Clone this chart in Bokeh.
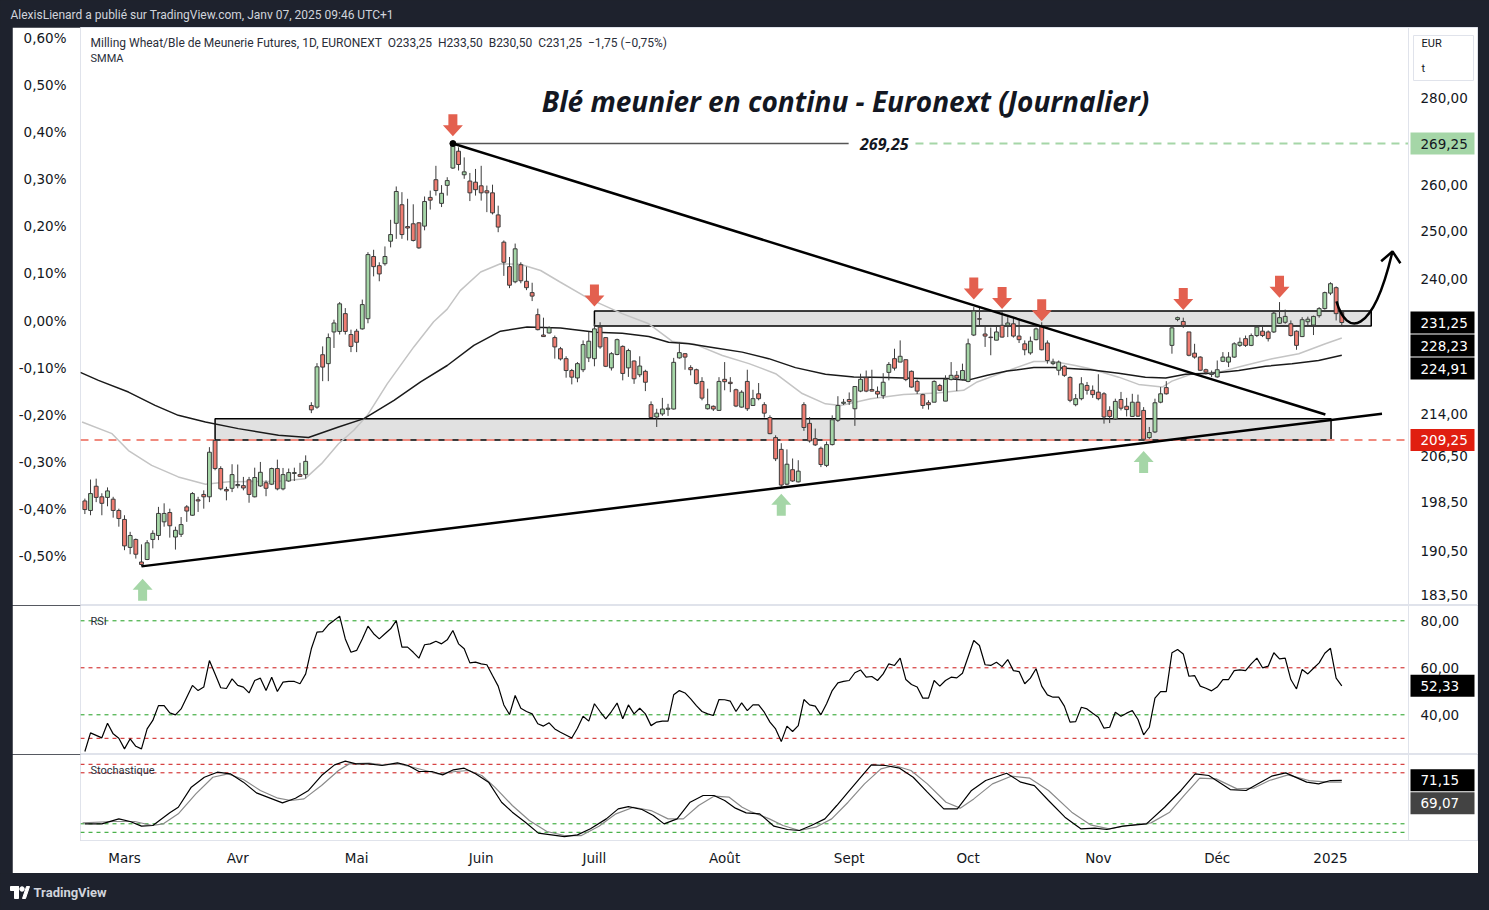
import numpy as np
import pandas as pd
from bokeh.plotting import figure
from bokeh.models import (Range1d, LinearAxis, LinearScale, FixedTicker, CustomJSTickFormatter,
                          Label, Span, ColumnDataSource, Spacer)
from bokeh.layouts import column, row
from bokeh.embed import file_html
from bokeh.resources import INLINE
from bokeh.core.properties import value

# ---------------- DATA ----------------
header_text = "AlexisLienard a publié sur TradingView.com, Janv 07, 2025 09:46 UTC+1"
legend_text = ("Milling Wheat/Ble de Meunerie Futures, 1D, EURONEXT\u00a0\u00a0O233,25\u00a0\u00a0H233,50"
               "\u00a0\u00a0B230,50\u00a0\u00a0C231,25\u00a0\u00a0\u22121,75 (\u22120,75%)")
title_text = "Blé meunier en continu - Euronext (Journalier)"
month_labels = ["Mars", "Avr", "Mai", "Juin", "Juill", "Août", "Sept", "Oct", "Nov", "Déc", "2025"]
holidays = ["2024-03-29", "2024-04-01", "2024-05-01", "2024-12-25", "2024-12-26", "2025-01-01"]

# daily candles 2024-02-21 .. 2025-01-06
opens = [198.7, 197.1, 201.2, 199.4, 199.3, 199.0, 197.1,
         195.6, 191.0, 192.3, 188.65, 189.05, 192.3, 192.95, 195.2, 196.75, 192.7,
         193.15, 197.7, 196.3, 198.9, 199.8, 199.4, 209.2, 204.25, 200.65, 200.85,
         201.3, 201.3, 202.3, 199.4, 201.25, 201.8, 201.55, 204.25, 200.75, 202.1,
         203.4, 203.2, 203.2, 215.5, 215.2, 225.0, 223.3, 229.4, 229.5, 233.0,
         228.9, 229.55, 230.0, 232.0, 244.6, 242.7, 243.1, 247.8, 251.6, 255.6,
         250.9, 251.5, 251.7, 251.0, 257.2, 261.1, 255.9, 259.85, 263.7, 267.5,
         262.2, 260.8, 260.55, 259.75, 258.65, 258.2, 253.4, 247.6, 242.5, 239.4,
         242.9, 239.5, 237.2, 232.8, 228.8, 229.2, 228.3, 226.15, 224.25, 222.0,
         220.6, 222.15, 224.4, 224.25, 230.35, 228.3, 222.5, 225.05, 226.6, 222.5,
         223.8, 221.2, 221.85, 215.65, 213.4, 213.95, 214.8, 214.85, 224.4, 225.2,
         222.55, 222.15, 219.95, 214.9, 215.35, 214.6, 220.35, 219.8, 218.4, 215.2,
         219.95, 215.5, 217.65, 215.65, 213.3, 209.7, 207.6, 201.55, 204.05, 201.95,
         215.65, 212.25, 209.5, 207.8, 204.8, 208.45, 212.8, 215.9, 216.6, 214.9,
         218.15, 220.65, 218.45, 218.1, 217.3, 221.65, 224.25, 223.6, 224.05, 221.85,
         219.95, 217.5, 216.0, 216.1, 219.2, 216.3, 220.3, 221.1, 220.3, 219.95,
         228.8, 232.0, 229.0, 228.4, 227.8, 230.7, 230.7, 231.0, 228.6, 227.1,
         225.35, 227.9, 230.45, 227.25, 223.3, 222.05, 222.8, 220.7, 215.65, 216.75,
         219.2, 218.3, 217.95, 217.65, 214.6, 213.05, 216.6, 215.35, 213.5, 216.1,
         214.6, 209.7, 210.7, 216.1, 218.8, 226.8, 231.85, 231.45, 229.4, 225.3,
         224.55, 222.15, 221.25, 220.8, 223.75, 223.6, 224.55, 226.8, 228.1, 226.8,
         228.7, 229.55, 229.4, 229.4, 231.1, 231.3, 231.0, 229.55, 228.5, 231.4,
         230.75, 232.6, 234.0, 237.1, 238.2, 233.25]
highs = [199.1, 202.35, 202.5, 200.0, 201.0, 199.4, 197.4,
         196.3, 193.55, 192.45, 191.5, 192.2, 193.8, 197.7, 198.3, 197.4, 194.4,
         196.0, 198.0, 200.2, 199.4, 200.5, 208.0, 209.25, 204.65, 201.1, 205.0,
         204.95, 202.8, 202.8, 204.4, 205.4, 202.2, 204.4, 205.8, 204.35, 204.25,
         204.4, 205.25, 206.55, 216.1, 223.4, 226.6, 229.1, 231.8, 235.3, 234.1,
         229.85, 230.0, 235.8, 245.5, 246.0, 243.4, 246.7, 252.35, 259.6, 258.35,
         256.9, 255.7, 251.85, 257.4, 258.7, 264.2, 259.9, 261.65, 269.25, 268.4,
         266.1, 262.6, 263.5, 264.2, 259.8, 260.0, 255.4, 247.96, 244.5, 247.3,
         243.4, 242.5, 239.2, 234.0, 232.2, 230.5, 228.7, 226.5, 224.7, 222.3,
         223.6, 227.76, 229.4, 231.0, 231.3, 228.4, 225.5, 228.1, 226.8, 226.15,
         223.9, 224.7, 222.15, 216.25, 214.9, 216.9, 215.8, 224.4, 227.4, 225.3,
         223.0, 222.35, 220.75, 218.6, 215.5, 220.75, 223.6, 220.75, 218.6, 218.3,
         222.15, 218.4, 219.65, 216.1, 213.7, 210.1, 208.7, 207.6, 206.0, 205.7,
         216.1, 213.4, 211.3, 208.1, 209.0, 213.7, 217.2, 216.7, 217.9, 219.0,
         221.4, 222.0, 222.15, 219.0, 221.5, 223.6, 226.15, 227.76, 224.05, 222.0,
         220.3, 217.65, 216.45, 220.15, 219.5, 221.1, 223.6, 221.9, 223.3, 228.1,
         234.3, 234.3, 230.7, 230.25, 230.55, 233.6, 232.3, 232.1, 231.66, 227.76,
         228.5, 230.25, 231.3, 227.76, 224.25, 223.9, 223.0, 220.9, 217.6, 220.75,
         219.85, 219.2, 221.3, 217.95, 215.35, 216.75, 218.0, 216.9, 217.65, 217.5,
         215.2, 211.6, 216.75, 218.9, 220.0, 230.35, 232.4, 232.2, 229.4, 227.1,
         224.7, 222.35, 222.0, 223.9, 225.5, 225.5, 227.4, 228.3, 228.7, 229.1,
         230.7, 230.7, 229.7, 233.64, 235.3, 233.8, 231.66, 229.7, 232.3, 232.4,
         232.6, 234.3, 237.4, 239.3, 238.45, 233.5]
lows = [196.5, 196.3, 198.5, 196.3, 197.8, 195.9, 194.4,
        190.55, 189.9, 189.2, 187.95, 188.95, 190.85, 192.2, 194.4, 192.6, 190.65,
        192.7, 195.2, 196.2, 196.85, 197.4, 198.5, 203.95, 200.5, 198.8, 200.2,
        200.85, 200.5, 198.4, 199.3, 201.1, 199.5, 201.4, 200.5, 200.5, 201.95,
        202.1, 202.8, 202.5, 214.1, 214.9, 220.0, 220.0, 226.3, 228.9, 228.9,
        225.5, 225.5, 229.85, 231.1, 240.5, 239.5, 242.7, 246.5, 248.3, 248.3,
        247.96, 247.75, 246.2, 250.1, 254.55, 257.6, 255.1, 257.6, 263.5, 263.15,
        261.3, 256.4, 257.6, 256.5, 254.0, 253.5, 249.7, 240.6, 238.1, 239.1,
        239.1, 237.7, 235.5, 229.7, 228.5, 229.1, 224.25, 223.9, 220.65, 219.4,
        219.8, 221.7, 223.6, 222.8, 226.15, 222.65, 222.0, 224.9, 220.15, 220.8,
        219.5, 220.75, 218.15, 213.3, 211.6, 213.6, 213.6, 214.75, 224.25, 222.15,
        221.1, 219.4, 216.45, 214.75, 214.5, 214.5, 218.3, 217.95, 215.2, 215.1,
        214.5, 215.4, 216.45, 213.3, 210.3, 205.55, 201.05, 201.37, 201.95, 201.85,
        210.9, 208.8, 208.2, 204.5, 204.5, 208.3, 212.5, 215.6, 215.6, 211.8,
        217.95, 217.95, 218.1, 216.9, 216.7, 220.15, 222.0, 223.6, 220.0, 218.8,
        217.6, 214.9, 214.75, 216.1, 218.15, 216.3, 220.15, 218.15, 220.15, 219.8,
        228.6, 230.7, 226.5, 224.9, 227.8, 228.3, 228.4, 228.3, 227.25, 224.9,
        225.0, 227.76, 225.83, 223.3, 223.0, 221.1, 220.8, 216.1, 215.35, 216.45,
        217.5, 216.9, 216.45, 212.2, 212.3, 212.9, 214.6, 213.5, 213.4, 213.4,
        209.25, 209.45, 210.5, 215.9, 217.5, 225.2, 231.5, 230.2, 224.7, 224.25,
        221.9, 221.25, 220.75, 220.65, 223.6, 222.65, 224.4, 226.5, 226.5, 226.65,
        228.4, 228.4, 227.55, 229.2, 231.0, 231.0, 228.5, 225.95, 228.4, 230.75,
        228.8, 232.2, 233.8, 236.7, 231.66, 230.5]
closes = [197.25, 199.95, 199.3, 198.3, 200.4, 197.1, 195.75,
          191.25, 192.95, 189.9, 188.25, 191.75, 193.3, 196.6, 196.6, 194.55, 193.8,
          194.75, 197.0, 199.95, 198.7, 199.4, 207.1, 204.25, 200.75, 200.4, 203.2,
          201.5, 200.9, 199.8, 202.7, 203.6, 200.85, 204.25, 200.75, 203.2, 203.55,
          203.55, 202.9, 205.5, 214.7, 222.7, 222.65, 228.3, 231.15, 234.95, 229.5,
          226.6, 227.4, 234.8, 245.0, 242.5, 241.0, 244.6, 249.2, 258.5, 249.2,
          250.6, 247.96, 246.4, 256.3, 256.6, 258.7, 258.1, 260.9, 269.2, 264.5,
          262.85, 258.2, 258.9, 258.2, 258.2, 253.85, 250.8, 243.4, 238.7, 246.2,
          239.6, 238.2, 236.5, 229.85, 228.5, 230.2, 226.5, 224.2, 222.0, 220.75,
          223.3, 226.95, 227.6, 230.0, 226.5, 222.8, 225.2, 227.9, 221.45, 225.8,
          220.45, 222.85, 219.8, 213.3, 214.1, 214.85, 215.0, 223.55, 225.4, 224.55,
          222.15, 219.55, 216.85, 215.65, 214.85, 219.95, 219.9, 219.55, 215.4, 217.95,
          214.9, 216.75, 216.75, 214.1, 210.4, 205.95, 201.4, 205.0, 202.1, 203.8,
          211.5, 209.1, 208.4, 204.95, 208.45, 212.9, 215.5, 216.1, 216.2, 219.0,
          220.35, 218.15, 218.15, 217.6, 219.8, 223.15, 222.45, 224.7, 220.3, 218.9,
          218.15, 215.5, 215.65, 219.95, 218.3, 220.35, 221.1, 220.6, 222.0, 227.1,
          233.5, 231.9, 228.6, 228.3, 229.4, 228.4, 231.15, 228.6, 227.9, 225.95,
          227.6, 230.0, 225.95, 223.9, 223.6, 223.6, 221.1, 216.45, 216.75, 219.5,
          218.3, 217.5, 216.75, 213.4, 213.5, 216.25, 215.0, 214.75, 216.1, 213.55,
          209.4, 210.6, 216.0, 217.65, 217.65, 230.2, 232.2, 230.7, 224.9, 224.55,
          222.05, 221.7, 221.5, 222.15, 224.55, 224.55, 227.1, 227.4, 226.8, 228.7,
          230.35, 228.7, 228.1, 233.1, 232.2, 232.45, 228.7, 226.8, 231.8, 231.9,
          232.45, 234.0, 237.2, 239.0, 233.0, 231.25]

# SMMA lines (bar index from 1 March 2024, value)
smma_slow_idx = [-7.8, -4.6, 0.7, 5.4, 9.5, 14.3, 20.1, 27.2, 32.5, 37.8, 42.3, 47.6, 52.3, 57.0,
                 61.7, 66.4, 71.1, 77.0, 83.2, 87.9, 92.6, 96.1, 99.7, 104.4, 109.1, 113.8, 118.5,
                 123.8, 128.8, 134.7, 140.6, 145.3, 148.8, 152.4, 155.9, 160.6, 164.1, 170.6,
                 175.6, 180.3, 183.9, 187.4, 192.1, 196.8, 201.5, 206.2, 210.9, 215]
smma_slow_val = [221.65, 220.15, 217.97, 215.52, 213.7, 212.5, 211.3, 210.1, 209.7, 211.6, 213.1,
                 216.44, 219.85, 222.95, 226.8, 229.55, 230.35, 230.15, 229.35, 229.15, 228.5,
                 227.4, 227.1, 226.3, 225.5, 224.25, 222.55, 221.3, 220.8, 220.7, 220.5, 220.5,
                 220.15, 221.1, 221.9, 222.55, 222.55, 222.15, 221.5, 220.75, 220.6, 221.3, 221.5,
                 222.0, 222.8, 223.3, 223.9, 224.91]
smma_fast_idx = [-7.5, -2.2, 0.7, 4.8, 9.5, 14.3, 18.4, 27.2, 31.9, 34.8, 37.8, 40.5, 42.9, 46.4,
                 51.1, 54.6, 57.0, 59.3, 62.9, 66.4, 69.9, 73.5, 77.0, 82.0, 87.9, 92.6, 96.7,
                 100.8, 105.6, 110.3, 115.0, 119.7, 123.8, 126.5, 131.8, 137.6, 143.5, 148.2,
                 150.6, 155.3, 160.6, 164.1, 167.7, 170.6, 175.6, 179.1, 183.3, 185.0, 188.6,
                 193.3, 198.0, 202.7, 207.4, 212.1, 215]
smma_fast_val = [212.5, 210.4, 207.4, 204.8, 202.8, 201.55, 201.95, 202.05, 202.5, 205.1, 208.6,
                 211.0, 213.7, 219.5, 226.5, 231.4, 233.9, 237.6, 241.4, 243.1, 243.0, 241.7,
                 239.3, 236.0, 233.0, 231.0, 227.6, 227.0, 224.85, 223.3, 221.4, 217.7, 215.8,
                 215.5, 216.75, 217.5, 217.8, 218.3, 219.85, 221.7, 223.7, 223.7, 223.0, 222.35,
                 220.75, 219.4, 218.9, 220.0, 221.4, 221.7, 223.0, 224.25, 225.2, 227.1, 228.23]

# RSI
rsi_idx = list(range(-7, -5)) + list(range(-4, 78)) + list(range(79, 149)) + list(range(150, 216))
rsi_val = [24.4, 32.3,
           30.2, 36.4, 31.9, 30.0, 25.5, 29.8, 26.6, 25.5, 34.0, 37.6, 43.9, 43.9, 40.8, 40.0,
           42.5, 47.5, 52.5, 50.3, 51.8, 63.1, 57.4, 51.5, 51.2, 55.3, 52.5, 51.8, 49.3, 54.6,
           55.6, 50.3, 56.0, 49.9, 53.9, 54.2, 54.2, 53.2, 57.4, 68.1, 75.2, 75.4, 78.3, 80.1,
           82.0, 72.3, 66.6, 67.4, 72.3, 77.7, 74.5, 72.3, 74.5, 76.6, 80.1, 68.8, 68.8, 66.6,
           64.1, 69.8, 70.2, 71.3, 70.2, 71.9, 75.9, 70.2, 68.1, 62.1, 62.4, 61.7, 61.3, 56.7,
           52.2, 44.2, 40.1, 48.2, 42.8, 41.4, 40.4, 36.2, 35.2, 36.6, 34.0, 32.6,
           30.1, 34.3, 39.4, 37.3, 44.7, 41.4, 38.3, 41.4, 45.0, 38.3, 44.2, 40.4, 42.8, 40.4,
           35.4, 36.9, 37.3, 37.3, 48.5, 50.3, 49.3, 46.8, 43.9, 41.4, 40.4, 39.7, 46.5, 46.4,
           45.8, 41.4, 45.1, 41.8, 44.2, 44.2, 41.1, 36.9, 34.0, 28.6, 35.2, 32.9, 35.4, 46.5,
           44.2, 43.7, 40.0, 44.7, 50.3, 53.6, 54.2, 54.6, 57.9, 59.1, 56.0, 56.3, 54.6, 57.4,
           61.7, 61.0, 64.1, 55.0, 52.9, 51.8, 47.1, 47.1, 54.6, 52.2, 54.6, 56.0, 55.7, 57.7,
           71.6, 69.5, 61.3, 61.0, 62.4, 60.5, 63.5, 58.8, 58.4, 53.2, 55.6, 59.6, 52.2, 48.5,
           47.5, 47.5, 43.7, 36.9, 37.1, 43.2, 42.5, 40.7, 39.0, 34.3, 34.7, 41.1, 39.4, 40.7,
           41.8, 38.0, 31.5, 34.7, 47.1, 49.9, 49.9, 66.4, 67.8, 65.9, 56.4, 56.7, 52.2, 51.3,
           50.2, 51.8, 55.0, 55.0, 58.8, 59.1, 58.8, 61.7, 64.1, 60.0, 60.7, 66.4, 63.8, 64.1,
           55.0, 51.0, 59.3, 57.4, 59.8, 62.1, 66.2, 68.3, 55.6, 52.33]
rsi_ticks = [40, 60, 80]
rsi_levels = [80, 60, 40, 30]

# Stochastic %K / %D
stk_idx = [-7, -4, -1, 1, 3, 5, 8, 9.5, 11.8, 14.1, 16.4, 18.7, 21.0, 23.3, 25.6, 27.9, 30.2, 32.5,
           34.8, 37.1, 39.0, 40.9, 43.2, 45.5, 48.2, 50.1, 52.0, 54.3, 56.2, 58.1, 60.0, 62.0, 64.3,
           66.6, 68.5, 70.8, 73.1, 75.4, 77.7, 80.0, 82.3, 85.1, 87.2, 89.0, 91.4, 93.4, 95.3, 97.6,
           99.9, 102.2, 104.1, 106.0, 107.9, 109.8, 112.2, 114.7, 117.1, 119.2, 121.3, 123.7,
           125.8, 127.8, 129.9, 131.9, 134.4, 136.9, 139.3, 141.8, 144.7, 147.1, 149.6, 152.1,
           155.8, 158.3, 160.7, 163.2, 166.1, 168.9, 171.4, 173.5, 176.3, 180.5, 183.7, 186.6,
           189.1, 191.5, 195.3, 198.1, 200.2, 202.6, 205.1, 208.8, 210.9, 213.0, 215]
stk_val = [19.9, 19.9, 25.8, 22.7, 17.2, 18.0, 32.9, 39.5, 63.1, 74.8, 80.7, 78.8, 69.0, 56.4, 50.5,
           44.6, 50.1, 59.2, 76.8, 89.3, 93.7, 90.5, 90.5, 88.6, 91.7, 88.6, 81.5, 81.5, 77.6, 83.5,
           85.4, 78.8, 69.0, 45.4, 33.7, 21.9, 9.0, 7.0, 5.0, 7.0, 14.1, 25.8, 37.6, 40.3, 36.8,
           29.7, 19.9, 25.8, 45.4, 53.3, 53.3, 47.4, 38.4, 32.9, 31.7, 17.2, 13.3, 12.1, 18.0,
           25.8, 41.5, 57.2, 73.7, 89.3, 88.6, 85.4, 74.8, 57.2, 37.6, 37.6, 59.2, 71.0, 79.5,
           69.0, 65.0, 47.4, 27.8, 14.1, 14.9, 13.3, 17.2, 19.9, 39.5, 59.2, 78.8, 76.8, 60.3,
           59.2, 67.0, 76.0, 79.9, 69.0, 67.0, 70.9, 71.15]
std_idx = [-7.4, -2.0, 1.8, 4.9, 6.8, 9.5, 12.6, 15.6, 18.3, 21.0, 24.0, 27.1, 29.4, 31.7, 34.8,
           37.8, 39.7, 43.2, 45.5, 48.5, 51.6, 55.4, 58.5, 60.8, 63.1, 65.4, 68.5, 71.5, 74.6, 77.7,
           80.7, 83.8, 86.8, 89.9, 93.0, 96.0, 98.7, 101.4, 104.1, 106.8, 109.1, 110.6, 113.9,
           116.3, 119.2, 122.1, 124.9, 127.8, 130.7, 133.6, 136.0, 138.9, 141.8, 145.1, 147.6,
           150.0, 153.3, 156.6, 159.9, 163.2, 167.3, 170.6, 173.9, 177.2, 181.3, 184.6, 187.4,
           189.9, 192.8, 196.5, 199.4, 202.2, 205.5, 209.2, 212.5, 215]
std_val = [21.1, 22.7, 22.7, 18.0, 19.9, 31.7, 55.2, 74.8, 78.8, 72.1, 59.2, 50.1, 47.4, 49.3, 65.0,
           82.7, 90.5, 91.3, 89.3, 90.5, 85.4, 78.8, 81.5, 82.7, 76.8, 63.1, 41.5, 23.9, 10.9, 6.2,
           6.2, 17.2, 31.7, 39.5, 35.6, 25.8, 25.8, 41.5, 52.5, 51.3, 39.5, 34.5, 25.8, 18.0, 12.1,
           16.0, 25.8, 45.4, 67.0, 84.6, 88.6, 82.7, 67.0, 45.4, 38.4, 49.3, 67.0, 76.0, 73.7,
           59.2, 33.7, 18.8, 14.1, 18.0, 21.1, 33.7, 55.2, 73.7, 72.9, 61.1, 61.9, 70.9, 77.6,
           70.9, 69.0, 69.07]
sto_levels = [90, 80, 20, 10]

# Price / percent scale tick labels
price_ticks = [183.5, 190.5, 198.5, 206.5, 214.0, 240.0, 250.0, 260.0, 280.0]
pct_ticks = [0.6, 0.5, 0.4, 0.3, 0.2, 0.1, 0.0, -0.1, -0.2, -0.3, -0.4, -0.5]

# Drawings (bar index, price)
peak_idx, peak_price = 58, 269.25
peak_line_end_idx = 127.9
peak_text_idx = 134.2
peak_dash_start_idx = 139.7
support_level = 209.25
zone_left = [16, 83]
zone_right = [213.1, 220.2]
zone_bottom = [209.25, 230.55]
zone_top = [213.1, 233.5]
desc_line_idx = [58, 212.1]
desc_line_price = [269.25, 213.85]
asc_line_idx = [3, 222.1]
asc_line_price = [187.95, 214.0]
down_arrow_idx = [58, 83, 150, 155, 162, 187, 204]
down_arrow_tip = [270.9, 234.4, 235.8, 233.9, 231.5, 233.7, 236.15]
up_arrow_idx = [3.2, 116, 180]
up_arrow_tip = [186.0, 199.9, 207.3]
curve_pts = dict(x0=214.06, y0=235.43, cx0=215.83, cy0=228.53,
                 cx1=220.42, cy1=228.53, x1=223.95, y1=245.65)
curve_head_idx = [221.95, 223.95, 225.35]
curve_head_price = [243.6, 245.65, 243.2]

# Last values shown on the scales
last_close = 231.25
smma_fast_last = 228.23
smma_slow_last = 224.91
rsi_last = 52.33
k_last = 71.15
d_last = 69.07

# ---------------- STYLE / GEOMETRY ----------------
DARK = "#1e222d"
TXT = "#131722"
FONT = "Roboto"
AXFONT = "DejaVu Sans"
TFONT = "Open Sans"
UP_C = "#a5d6a7"
DN_C = "#ef7d72"
EDGE = "#3c3c3c"
OUTLINE = "#e0e3eb"

CHART_W = 1328            # plotting area width (bars)
SCALE_W = 70              # right price-scale strip inside the frame
FRAME_W = CHART_W + SCALE_W
LB = 68
W = LB + FRAME_W
MAIN_H, RSI_H, STO_H, AX_H = 578, 149, 86, 33
HEAD_H, FOOT_H = 27, 37
SIDE_L, SIDE_R = 12, 11
X0, X1 = -7.77, 226.78
PX_PER_BAR = CHART_W / (X1 - X0)
XE = X0 + FRAME_W / PX_PER_BAR
Y0, Y1 = 181.80, 297.17
PX_PER_LN = MAIN_H / np.log(Y1 / Y0)
RSI_RANGE = (23.11, 86.51)
STO_RANGE = (0.35, 101.53)
STO_PX_PER_UNIT = STO_H / (STO_RANGE[1] - STO_RANGE[0])
TICK_X = X1 + 12 / PX_PER_BAR
TAG_X = X1 + 34 / PX_PER_BAR


def shift(price, px):
    return price * np.exp(px / PX_PER_LN)


def fmt(v):
    return f"{v:.2f}".replace(".", ",")


# dates -> bar index
hol = pd.to_datetime(holidays)
dates = pd.bdate_range("2024-02-21", "2025-01-06")
dates = dates[~dates.isin(hol)]
n = min(len(dates), len(closes))
dates = dates[:n]
first_march = int(np.argmax(dates >= pd.Timestamp("2024-03-01")))
xs = np.arange(n) - first_march
per = dates.to_period("M")
month_pos = [int(xs[k]) for k in range(1, n) if per[k] != per[k - 1]]
month_map = {str(p_): lab for p_, lab in zip(month_pos, month_labels)}

xr = Range1d(X0, XE)


def base_fig(height, **kw):
    f = figure(width=W, height=height, x_range=xr, toolbar_location=None, output_backend="svg",
               min_border_left=LB, min_border_right=0, min_border_top=0,
               background_fill_color="white", border_fill_color="white",
               outline_line_color=OUTLINE, **kw)
    f.grid.grid_line_color = None
    f.add_layout(Span(location=X1, dimension="height", line_color=OUTLINE, line_width=1))
    return f


def style_axis(ax):
    ax.axis_line_color = None
    ax.major_tick_line_color = None
    ax.minor_tick_line_color = None
    ax.major_label_text_font = AXFONT
    ax.major_label_text_font_size = "13.5px"
    ax.major_label_text_color = TXT


def scale_ticks(f, ticks):
    f.text(x=[TICK_X] * len(ticks), y=ticks, text=[fmt(t) for t in ticks],
           text_font=value(AXFONT), text_font_size="13.5px", text_color=TXT,
           text_align="left", text_baseline="middle")


def scale_tags(f, tags):
    for yv, tx, bg, fg in tags:
        f.rect(x=[TAG_X], y=[yv], width=64, height=22, width_units="screen",
               height_units="screen", fill_color=bg, line_color=None)
        f.text(x=[TICK_X], y=[yv], text=[tx], text_font=value(AXFONT), text_font_size="13.5px",
               text_color=fg, text_align="left", text_baseline="middle")


# ---------------- MAIN PANE ----------------
p = base_fig(MAIN_H, y_range=Range1d(Y0, Y1), y_axis_type="log", x_axis_location=None,
             y_axis_location=None, min_border_bottom=0)
p.extra_y_ranges = {"pct": Range1d(-0.6039, 0.6212)}
p.extra_y_scales = {"pct": LinearScale()}
pax = LinearAxis(y_range_name="pct", ticker=FixedTicker(ticks=pct_ticks),
                 formatter=CustomJSTickFormatter(code="return tick.toFixed(2).replace('.', ',') + '%'"))
style_axis(pax)
pax.major_label_standoff = 8
p.add_layout(pax, "left")

# zones
p.quad(left=zone_left, right=zone_right, bottom=zone_bottom, top=zone_top,
       fill_color="#e1e1e1", line_color="black", line_width=1.5)
# support dashed level
p.line([X0, X1], [support_level, support_level], line_color="#f08a7e", line_width=2,
       line_dash="8 6")
# SMMA
p.line(smma_fast_idx, smma_fast_val, line_color="#c4c4c4", line_width=1.5)
p.line(smma_slow_idx, smma_slow_val, line_color="#1a1a1a", line_width=1.5)

# candles
o = np.array(opens[:n]); h = np.array(highs[:n]); l = np.array(lows[:n]); c = np.array(closes[:n])
src = ColumnDataSource(dict(x=xs, top=np.maximum(o, c), bottom=np.minimum(o, c), high=h, low=l,
                            color=np.where(c >= o, UP_C, DN_C)))
p.segment(x0="x", y0="high", x1="x", y1="low", source=src, line_color=EDGE, line_width=1)
p.vbar(x="x", width=0.68, top="top", bottom="bottom", source=src, fill_color="color",
       line_color=EDGE, line_width=1)

# peak horizontal and dashed level
p.line([peak_idx, peak_line_end_idx], [peak_price, peak_price], line_color="#555555", line_width=1.5)
p.line([peak_dash_start_idx, X1], [peak_price, peak_price], line_color="#a5d6a7", line_width=2,
       line_dash="8 6")
# trend lines
p.line(desc_line_idx, desc_line_price, line_color="black", line_width=2.5)
p.line(asc_line_idx, asc_line_price, line_color="black", line_width=2.5)
p.scatter([peak_idx], [peak_price], size=6, color="black")

# arrows
dn_shape = [(0, 0), (-10, 11), (-4.5, 11), (-4.5, 22), (4.5, 22), (4.5, 11), (10, 11)]
axs, ays = [], []
for i_, t_ in zip(down_arrow_idx, down_arrow_tip):
    axs.append([i_ + dx / PX_PER_BAR for dx, dy in dn_shape])
    ays.append([shift(t_, dy) for dx, dy in dn_shape])
p.patches(axs, ays, fill_color="#e3604f", line_color=None)
uxs, uys = [], []
for i_, t_ in zip(up_arrow_idx, up_arrow_tip):
    uxs.append([i_ + dx / PX_PER_BAR for dx, dy in dn_shape])
    uys.append([shift(t_, -dy) for dx, dy in dn_shape])
p.patches(uxs, uys, fill_color="#a5d6a7", line_color=None)

# projected curve
p.bezier(line_color="black", line_width=2.5, **{k: [v] for k, v in curve_pts.items()})
p.line(curve_head_idx, curve_head_price, line_color="black", line_width=2.5)

# texts
p.add_layout(Label(x=10, y=MAIN_H - 15, x_units="screen", y_units="screen", text=legend_text,
                   text_font=FONT, text_font_size="12px", text_color="#2a2e39",
                   text_baseline="middle"))
p.add_layout(Label(x=10, y=MAIN_H - 31, x_units="screen", y_units="screen", text="SMMA",
                   text_font=FONT, text_font_size="11px", text_color="#2a2e39",
                   text_baseline="middle"))
p.add_layout(Label(x=765, y=MAIN_H - 73, x_units="screen", y_units="screen", text=title_text,
                   text_font=TFONT, text_font_size="28px", text_font_style="bold italic",
                   text_color=TXT, text_align="center", text_baseline="middle"))
p.add_layout(Label(x=peak_text_idx, y=peak_price, text="269,25", text_font=TFONT,
                   text_font_size="16px", text_font_style="bold italic", text_color=TXT,
                   text_align="center", text_baseline="middle"))

# right price scale (inside the frame strip)
p.rect(x=[X1 + 35 / PX_PER_BAR], y=[shift(280.0, 39.5)], width=60, height=45,
       width_units="screen", height_units="screen", fill_color="white", line_color=OUTLINE)
p.text(x=[X1 + 13 / PX_PER_BAR] * 2, y=[shift(280.0, 54), shift(280.0, 29)], text=["EUR", "t"],
       text_font=value(FONT), text_font_size="11px", text_color=TXT, text_align="left",
       text_baseline="middle")
scale_ticks(p, price_ticks)
scale_tags(p, [(peak_price, fmt(peak_price), "#a5d6a7", TXT),
               (last_close, fmt(last_close), "black", "white"),
               (shift(last_close, -23), fmt(smma_fast_last), "black", "white"),
               (shift(last_close, -46), fmt(smma_slow_last), "black", "white"),
               (support_level, fmt(support_level), "#e01e10", "white")])

# ---------------- RSI PANE ----------------
r = base_fig(RSI_H, y_range=Range1d(*RSI_RANGE), x_axis_location=None, y_axis_location=None,
             min_border_bottom=0)
for lv, col in zip(rsi_levels, ["#1e9e1e", "#cc1515", "#1e9e1e", "#cc1515"]):
    r.line([X0, X1], [lv, lv], line_color=col, line_dash="4 4", line_width=1)
r.line(rsi_idx, rsi_val, line_color="black", line_width=1.2)
r.add_layout(Label(x=10, y=RSI_H - 16, x_units="screen", y_units="screen", text="RSI",
                   text_font=FONT, text_font_size="11px", text_color="#2a2e39",
                   text_baseline="middle"))
scale_ticks(r, rsi_ticks)
scale_tags(r, [(rsi_last, fmt(rsi_last), "black", "white")])

# ---------------- STOCHASTIC PANE + TIME AXIS ----------------
s = base_fig(STO_H + AX_H, y_range=Range1d(*STO_RANGE), x_axis_location="below",
             y_axis_location=None, min_border_bottom=AX_H)
sx = s.xaxis[0]
sx.ticker = FixedTicker(ticks=month_pos)
sx.formatter = CustomJSTickFormatter(args=dict(m=month_map),
                                     code="const v = m[String(tick)]; return v === undefined ? '' : v;")
style_axis(sx)
sx.major_tick_out = 0
sx.major_tick_in = 0
sx.major_label_standoff = 9
for lv, col in zip(sto_levels, ["#cc1515", "#cc1515", "#1e9e1e", "#1e9e1e"]):
    s.line([X0, X1], [lv, lv], line_color=col, line_dash="4 4", line_width=1)
s.line(std_idx, std_val, line_color="#8a8a8a", line_width=1.2)
s.line(stk_idx, stk_val, line_color="black", line_width=1.2)
s.add_layout(Label(x=10, y=STO_H - 16, x_units="screen", y_units="screen", text="Stochastique",
                   text_font=FONT, text_font_size="11px", text_color="#2a2e39",
                   text_baseline="middle"))
scale_tags(s, [(k_last, fmt(k_last), "black", "white"),
               (k_last - 23 / STO_PX_PER_UNIT, fmt(d_last), "#434343", "white")])

# ---------------- HEADER / FOOTER ----------------
TOT_W = SIDE_L + W + SIDE_R


def dark_fig(height):
    f = figure(width=TOT_W, height=height, x_range=Range1d(0, TOT_W), y_range=Range1d(0, height),
               x_axis_location=None, y_axis_location=None, toolbar_location=None,
               output_backend="svg", min_border=0, background_fill_color=DARK,
               border_fill_color=DARK, outline_line_color=None)
    f.grid.grid_line_color = None
    return f


hd = dark_fig(HEAD_H)
hd.add_layout(Label(x=10, y=13, x_units="screen", y_units="screen", text=header_text,
                    text_font=FONT, text_font_size="12px", text_color="#d1d4dc",
                    text_baseline="middle"))
ft = dark_fig(FOOT_H)
ft.quad(left=[10], right=[18], bottom=[20], top=[24], color="white")
ft.quad(left=[14], right=[18], bottom=[12], top=[24], color="white")
ft.scatter([21.5], [21.5], size=4.5, color="white")
ft.patch([22, 26, 29, 25], [12, 24, 24, 12], color="white")
ft.add_layout(Label(x=33, y=18, x_units="screen", y_units="screen", text="TradingView",
                    text_font=FONT, text_font_size="13px", text_font_style="bold",
                    text_color="#d1d4dc", text_baseline="middle"))

bg = {"background-color": DARK}
MID_H = MAIN_H + RSI_H + STO_H + AX_H
mid = row(Spacer(width=SIDE_L, height=MID_H, styles=bg),
          column(p, r, s),
          Spacer(width=SIDE_R, height=MID_H, styles=bg))
page = column(hd, mid, ft, styles=bg)

open("out.html", "w").write(file_html(page, INLINE))
